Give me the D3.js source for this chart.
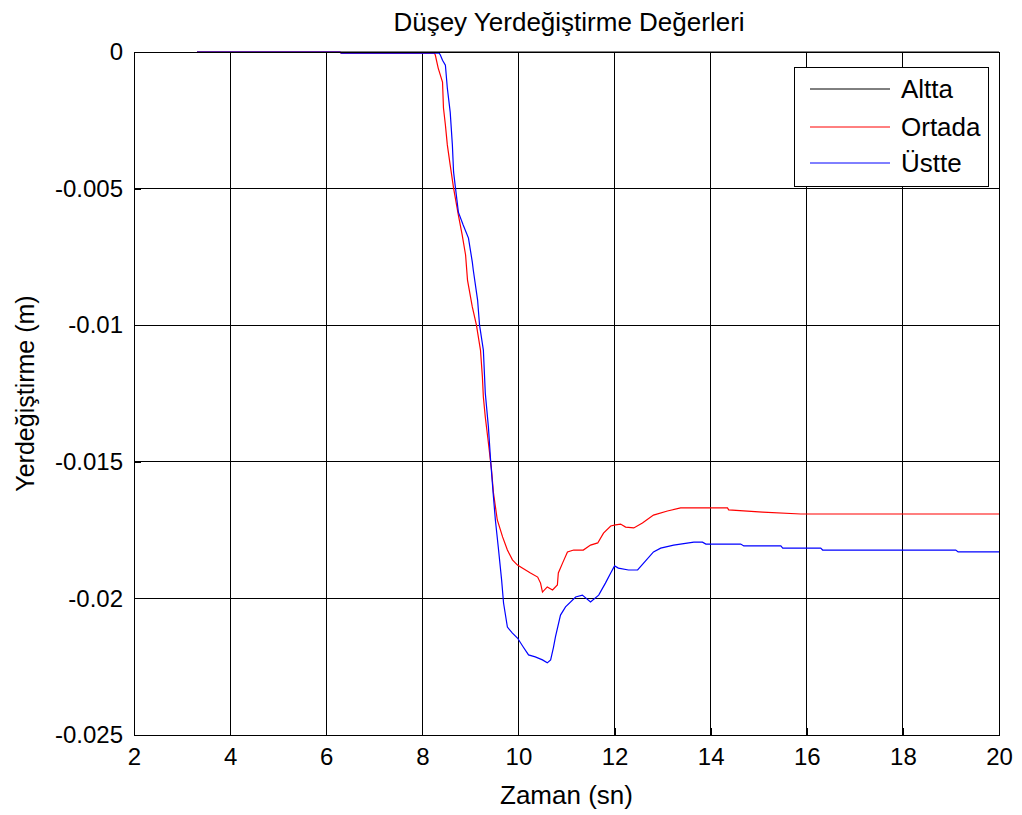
<!DOCTYPE html>
<html>
<head>
<meta charset="utf-8">
<script src="https://cdn.jsdelivr.net/npm/d3@7/dist/d3.min.js"></script>
<style>
  html, body { margin: 0; padding: 0; background: #fff; }
  svg { display: block; font-family: "Liberation Sans", Arial, sans-serif; }
</style>
</head>
<body>
<svg id="chart" width="1022" height="815"></svg>
<script>
// Time (s) and vertical displacement (m x 1e-3) for each sensor level
const alttaTime = [3.31, 20];
const alttaDisp = [0, 0];

const ortadaTime = [3.31, 6.29, 6.31, 8.25, 8.27, 8.33, 8.42, 8.44, 8.48, 8.52, 8.58, 8.65, 8.75, 8.83, 8.90, 8.94,
  9.04, 9.125, 9.21, 9.25, 9.27, 9.31, 9.375, 9.44, 9.48, 9.56, 9.67, 9.77, 9.875, 9.98, 10.08, 10.25, 10.40,
  10.46, 10.50, 10.60, 10.71, 10.81, 10.83, 10.92, 11.02, 11.15, 11.35, 11.50, 11.65, 11.77, 11.92, 12.02,
  12.125, 12.23, 12.40, 12.58, 12.81, 13.10, 13.375, 14.35, 14.375, 15.08, 15.875, 20];
const ortadaDisp = [0, 0, -0.04, -0.04, -0.11, -0.59, -1.10, -2.05, -2.67, -3.40, -4.14, -4.98, -5.97, -6.70, -7.43, -8.35,
  -9.33, -9.99, -10.91, -11.90, -12.63, -13.36, -14.31, -15.30, -16.14, -17.13, -17.75, -18.23, -18.59, -18.78, -18.89, -19.07, -19.22,
  -19.44, -19.77, -19.58, -19.69, -19.51, -19.07, -18.70, -18.30, -18.23, -18.23, -18.05, -17.97, -17.61, -17.35, -17.31,
  -17.28, -17.39, -17.42, -17.24, -16.95, -16.80, -16.69, -16.69, -16.76, -16.84, -16.91, -16.91];

const ustteTime = [3.31, 6.29, 6.31, 8.35, 8.375, 8.42, 8.48, 8.52, 8.58, 8.625, 8.65, 8.69, 8.75, 8.85, 8.96, 9.04, 9.06,
  9.15, 9.19, 9.27, 9.31, 9.375, 9.42, 9.48, 9.52, 9.58, 9.65, 9.69, 9.77, 9.875, 9.98, 10.10, 10.21, 10.35,
  10.50, 10.60, 10.67, 10.73, 10.77, 10.875, 10.98, 11.19, 11.33, 11.50, 11.67, 11.81, 11.92, 12.00, 12.08,
  12.29, 12.48, 12.81, 12.96, 13.23, 13.65, 13.83, 13.90, 14.625, 14.69, 15.46, 15.50, 16.29, 16.33, 19.10, 19.15, 20];
const ustteDisp = [0, 0, -0.04, -0.04, -0.11, -0.30, -0.48, -1.32, -2.20, -3.40, -4.39, -4.98, -5.86, -6.33, -6.81, -7.69, -7.98,
  -9.08, -9.99, -10.91, -12.48, -13.73, -14.93, -16.29, -17.13, -18.12, -19.33, -20.17, -21.05, -21.27, -21.45, -21.78, -22.07, -22.14,
  -22.25, -22.36, -22.25, -21.78, -21.41, -20.61, -20.31, -19.95, -19.88, -20.13, -19.88, -19.44, -19.07, -18.81, -18.89,
  -18.96, -18.96, -18.30, -18.16, -18.05, -17.94, -17.94, -18.01, -18.01, -18.08, -18.08, -18.16, -18.16, -18.23, -18.23, -18.30, -18.30];

const seriesNames = ["Altta", "Ortada", "Üstte"];
const seriesColors = ["#000000", "#ff0000", "#0000ff"];

const xTicks = [2, 4, 6, 8, 10, 12, 14, 16, 18, 20];
const yTicks = [0, -0.005, -0.01, -0.015, -0.02, -0.025];
const yTickLabels = ["0", "-0.005", "-0.01", "-0.015", "-0.02", "-0.025"];

const titleText = "Düşey Yerdeğiştirme Değerleri";
const xLabelText = "Zaman (sn)";
const yLabelText = "Yerdeğiştirme (m)";

const svg = d3.select("#chart");
const plot = { left: 134, right: 999, top: 52, bottom: 735 };

const x = d3.scaleLinear().domain([2, 20]).range([plot.left, plot.right]);
const y = d3.scaleLinear().domain([-0.025, 0]).range([plot.bottom, plot.top]);

const toPoints = (t, d) => t.map((tv, i) => [tv, d[i] / 1000]);
const series = [
  toPoints(alttaTime, alttaDisp),
  toPoints(ortadaTime, ortadaDisp),
  toPoints(ustteTime, ustteDisp)
];

// grid lines
const grid = svg.append("g").attr("stroke", "#000").attr("stroke-width", 1).attr("shape-rendering", "crispEdges");
xTicks.slice(1, -1).forEach(t => {
  grid.append("line").attr("x1", x(t)).attr("x2", x(t)).attr("y1", plot.top).attr("y2", plot.bottom);
});
yTicks.slice(1, -1).forEach(v => {
  grid.append("line").attr("x1", plot.left).attr("x2", plot.right).attr("y1", y(v)).attr("y2", y(v));
});

// axes with inward ticks
const xAxis = d3.axisBottom(x).tickValues(xTicks).tickSize(-7).tickPadding(13).tickFormat(d3.format("d"));
const yAxis = d3.axisLeft(y).tickValues(yTicks).tickSize(-7).tickPadding(11)
  .tickFormat((d, i) => yTickLabels[i]);

const gx = svg.append("g").attr("transform", `translate(0,${plot.bottom})`).call(xAxis);
const gy = svg.append("g").attr("transform", `translate(${plot.left},0)`).call(yAxis);
[gx, gy].forEach(g => {
  g.select(".domain").remove();
  g.selectAll("line").attr("stroke", "#000").attr("shape-rendering", "crispEdges");
  g.selectAll("text").attr("font-size", 24).attr("fill", "#000")
    .attr("font-family", "'Liberation Sans', Arial, sans-serif");
});
gx.selectAll("text").attr("dy", "0.71em");
// top and right ticks
const mirror = svg.append("g").attr("stroke", "#000").attr("shape-rendering", "crispEdges");
xTicks.forEach(t => mirror.append("line").attr("x1", x(t)).attr("x2", x(t)).attr("y1", plot.top).attr("y2", plot.top + 7));
yTicks.forEach(v => mirror.append("line").attr("x1", plot.right).attr("x2", plot.right - 7).attr("y1", y(v)).attr("y2", y(v)));

// data lines
const line = d3.line().x(d => x(d[0])).y(d => y(d[1]));
series.forEach((pts, i) => {
  svg.append("path").datum(pts)
    .attr("fill", "none")
    .attr("stroke", seriesColors[i])
    .attr("stroke-width", 1.2)
    .attr("d", line);
});

// axes box
svg.append("rect")
  .attr("x", plot.left).attr("y", plot.top)
  .attr("width", plot.right - plot.left).attr("height", plot.bottom - plot.top)
  .attr("fill", "none").attr("stroke", "#000").attr("stroke-width", 1)
  .attr("shape-rendering", "crispEdges");

// title and axis labels
svg.append("text").attr("x", 569).attr("y", 31)
  .attr("text-anchor", "middle").attr("font-size", 26).text(titleText);
svg.append("text").attr("x", (plot.left + plot.right) / 2).attr("y", 804)
  .attr("text-anchor", "middle").attr("font-size", 26).text(xLabelText);
svg.append("text")
  .attr("transform", `translate(34,${(plot.top + plot.bottom) / 2}) rotate(-90)`)
  .attr("text-anchor", "middle").attr("font-size", 25).text(yLabelText);

// legend
const lg = svg.append("g");
const lx = 794, ly = 67, lw = 194, lh = 119;
lg.append("rect").attr("x", lx + 1).attr("y", ly + 1).attr("width", lw).attr("height", lh)
  .attr("fill", "#000").attr("shape-rendering", "crispEdges");
lg.append("rect").attr("x", lx).attr("y", ly).attr("width", lw).attr("height", lh)
  .attr("fill", "#fff").attr("stroke", "#000").attr("shape-rendering", "crispEdges");
const rowY = [89, 127, 163];
seriesNames.forEach((name, i) => {
  lg.append("line").attr("x1", lx + 16).attr("x2", lx + 96)
    .attr("y1", rowY[i]).attr("y2", rowY[i])
    .attr("stroke", seriesColors[i]).attr("stroke-width", 1);
  lg.append("text").attr("x", lx + 107).attr("y", rowY[i]).attr("dy", "0.36em")
    .attr("font-size", 26).text(name);
});
</script>
</body>
</html>
